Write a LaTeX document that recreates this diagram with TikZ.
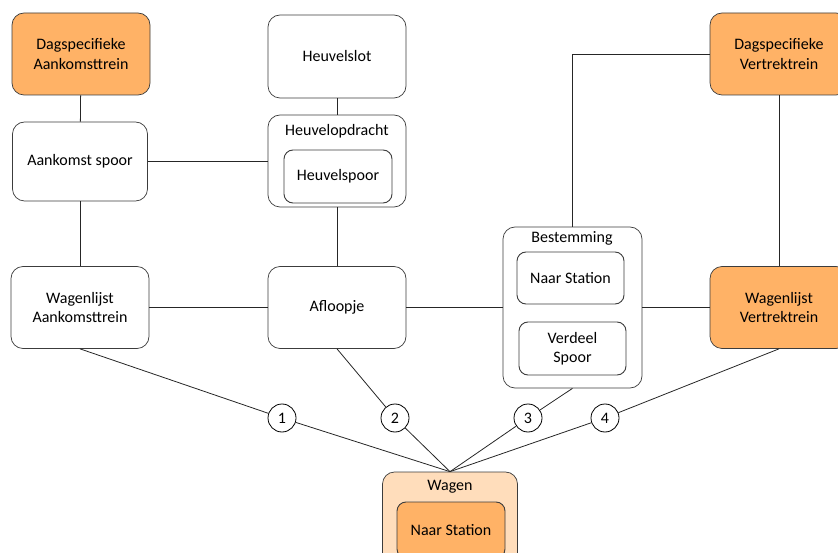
\documentclass[tikz,border=0pt]{standalone}
\usepackage{fontspec}
\setmainfont{Carlito}
\usepackage{tikz}
\usetikzlibrary{positioning,calc}
\definecolor{trainorange}{RGB}{255,178,102}
\definecolor{wagenpeach}{RGB}{255,221,187}
\definecolor{edgegray}{RGB}{60,60,60}

\begin{document}
\begin{tikzpicture}[
  x=1pt, y=-1pt,
  font=\fontsize{16}{19.5}\selectfont,
  block/.style={rectangle, draw=edgegray, line width=0.7pt, fill=white, rounded corners=12pt, minimum width=138pt, minimum height=82pt, align=center, inner sep=2pt},
  orangeblock/.style={block, fill=trainorange},
  holder/.style={block, minimum height=#1},
  subblock/.style={rectangle, draw=edgegray, line width=0.9pt, fill=white, rounded corners=9pt, minimum width=107pt, minimum height=53pt, align=center, inner sep=2pt},
  caption/.style={inner sep=0pt},
  stepno/.style={circle, draw=black, line width=0.8pt, fill=white, minimum size=28pt, inner sep=0pt},
  link/.style={draw=black!85, line width=0.8pt}
]
\clip (0,0) rectangle (838,553);
\useasboundingbox (0,0) rectangle (838,553);

% left column
\node[orangeblock] (dagA) at (81,54) {Dagspecifieke\\Aankomsttrein};
\node[block, minimum width=135pt, minimum height=79pt] (aspoor) at (80,161.5) {Aankomst spoor};
\node[block] (wlA) at (80,307.5) {Wagenlijst\\Aankomsttrein};

% hill column
\node[block, minimum height=83pt] (hslot) at (337,56.5) {Heuvelslot};
\node[holder=92pt] (hopd) at (337,161) {};
\node[caption] (hopdT) at (337,131) {Heuvelopdracht};
\node[subblock, minimum width=108pt] (hspoor) at (338,176.5) {Heuvelspoor};
\node[block] (afl) at (337,307.5) {Afloopje};

% destination
\node[holder=161pt, minimum width=139pt] (best) at (572.5,307.5) {};
\node[caption] (bestT) at (572,238) {Bestemming};
\node[subblock, minimum height=52pt] (nasB) at (570.5,278) {Naar Station};
\node[subblock] (vsp) at (572.5,348.5) {Verdeel\\Spoor};

% right column
\node[orangeblock] (dagV) at (779,54) {Dagspecifieke\\Vertrektrein};
\node[orangeblock] (wlV) at (779,307.5) {Wagenlijst\\Vertrektrein};

% wagon
\node[holder=94pt, minimum width=135pt, fill=wagenpeach] (wagen) at (450,519) {};
\node[caption] (wagenT) at (450,487) {Wagen};
\node[subblock, minimum width=108pt, minimum height=56pt, fill=trainorange] (nasW) at (451,530) {Naar Station};

% numbered steps
\node[stepno] (s1) at (282,418) {1};
\node[stepno] (s2) at (395,418) {2};
\node[stepno] (s3) at (528,418) {3};
\node[stepno] (s4) at (605,418) {4};

% links
\draw[link] (dagA) -- (aspoor);
\draw[link] (aspoor) -- (wlA);
\draw[link] (aspoor.east) -- (aspoor.east -| hopd.west);
\draw[link] (hslot) -- (hopd);
\draw[link] (hopd) -- (afl);
\draw[link] (wlA) -- (afl);
\draw[link] (afl) -- (best);
\draw[link] (best) -- (wlV);
\draw[link] (dagV.west) -| (best.north);
\draw[link] (dagV) -- (wlV);

\draw[link] (wlA.south) -- (s1);
\draw[link] (s1) -- (wagen.north);
\draw[link] (afl.south) -- (s2);
\draw[link] (s2) -- (wagen.north);
\draw[link] (best.south) -- (s3);
\draw[link] (s3) -- (wagen.north);
\draw[link] (wlV.south) -- (s4);
\draw[link] (s4) -- (wagen.north);
\end{tikzpicture}
\end{document}
